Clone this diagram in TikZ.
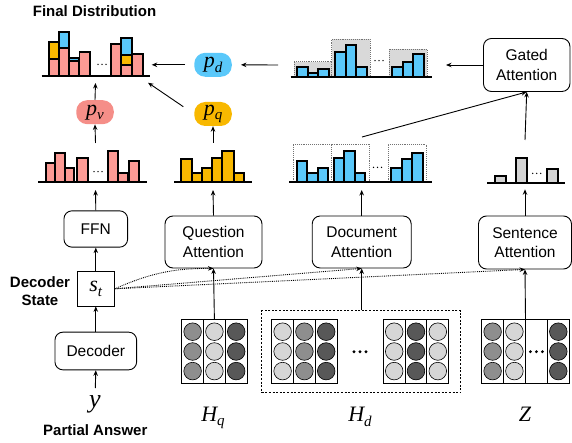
\documentclass[tikz,border=0pt]{standalone}
\usepackage{fontspec}
\newfontfamily\helv{Liberation Sans}
\newfontfamily\tms{Liberation Serif}
\usetikzlibrary{arrows.meta}
\definecolor{pinkc}{HTML}{FC9A94}
\definecolor{pvc}{HTML}{F58E88}
\definecolor{yelc}{HTML}{F8B800}
\definecolor{bluec}{HTML}{5AC8FA}
\definecolor{grayc}{HTML}{D4D4D4}
\definecolor{framec}{HTML}{D9D9D9}
\definecolor{cl}{HTML}{D6D6D6}
\definecolor{cm}{HTML}{8E8E8E}
\definecolor{cd}{HTML}{585858}
\newcommand\mv[2]{{\tms\itshape\fontsize{22}{22}\selectfont #1\raisebox{-4.5pt}{\fontsize{15}{15}\selectfont #2}}}
\newcommand\mybar[5]{\draw[barline,fill=#5] (#1,#3) rectangle (#2,#4);}
\newcommand\memcol[2]{%
  \draw[matline] (#1,319.3) rectangle ++(21.8,64);
  \foreach \yy in {331.7,351.5,371.1} \draw[circ,fill=#2] (#1+10.9,\yy) circle (8.8pt);}
\newcommand\smalldots[2]{\foreach \dx in {-4,0,4} \fill (#1+\dx,#2) circle (0.75pt);}
\newcommand\bigdots[2]{\foreach \dx in {-6,0,6} \fill (#1+\dx,#2) circle (1.6pt);}
\tikzset{
  barline/.style={line width=1.7pt, draw=black},
  baseln/.style={line width=1.7pt},
  matline/.style={line width=0.9pt, draw=black},
  circ/.style={line width=0.6pt, draw=black},
  framedot/.style={densely dotted, line width=0.9pt, draw=black!55},
  arr/.style={-{Stealth[length=5.5pt,width=4.5pt]}, line width=0.9pt},
  dotarr/.style={densely dotted, line width=0.9pt, -{Stealth[length=5.5pt,width=4.5pt]}},
  box/.style={draw, line width=0.9pt, rounded corners=8pt, align=center, inner sep=0pt,
    font=\helv\fontsize{15.5}{19.5}\selectfont},
  pnode/.style={rounded corners=11pt, inner sep=0pt, minimum width=37.5pt, minimum height=24pt},
  bold/.style={font=\helv\bfseries\fontsize{15}{17.5}\selectfont, align=center, inner sep=0pt},
  mathlab/.style={inner sep=0pt}
}
\begin{document}
\begin{tikzpicture}[x=1pt,y=-1pt]
\useasboundingbox (0,0) rectangle (572,443);

% ---------- text labels ----------
\node[bold] (title) at (94.5,11) {Final Distribution};
\node[bold] (dstate) at (40,291) {Decoder\\State};
\node[bold] (pans) at (95.3,430) {Partial Answer};
\node[mathlab, font=\tms\itshape\fontsize{26}{26}\selectfont] (ylab) at (95,404) {y};
\node[mathlab] (hqlab) at (213,418) {\mv{H}{q}};
\node[mathlab] (hdlab) at (360,417) {\mv{H}{d}};
\node[mathlab] (zlab) at (525,416.5) {\mv{Z}{}};

% ---------- boxes ----------
\node[box, minimum width=97pt, minimum height=52pt] (qatt) at (213.5,242) {Question\\Attention};
\node[box, minimum width=99pt, minimum height=52pt] (datt) at (361.7,242) {Document\\Attention};
\node[box, minimum width=93pt, minimum height=53pt] (satt) at (525,242.5) {Sentence\\Attention};
\node[box, minimum width=86.5pt, minimum height=53pt] (gatt) at (526.7,65) {Gated\\Attention};
\node[box, minimum width=63.7pt, minimum height=36.3pt] (ffn) at (95.8,229) {FFN};
\node[box, minimum width=81.7pt, minimum height=37.7pt] (dec) at (95.8,351) {Decoder};
\node[draw, line width=0.8pt, minimum width=37pt, minimum height=34.3pt, inner sep=0pt]
  (st) at (95.8,288.8) {\mv{s}{t}};

\node[pnode, fill=pvc] (pv) at (95,112.2) {\mv{p}{v}};
\node[pnode, fill=yelc] (pq) at (213,114) {\mv{p}{q}};
\node[pnode, fill=bluec] (pd) at (213,64.8) {\mv{p}{d}};

% ---------- final distribution ----------
\mybar{48.7}{58.7}{76}{59.3}{pinkc}\mybar{48.7}{58.7}{59.3}{42}{yelc}
\mybar{58.7}{68.7}{76}{48.3}{pinkc}\mybar{58.7}{68.7}{48.3}{32.3}{bluec}
\mybar{69.3}{79}{76}{60.7}{pinkc}\mybar{69.3}{79}{60.7}{58.3}{bluec}
\mybar{79.5}{89.7}{76}{51.7}{pinkc}
\mybar{111}{121.3}{76}{43.7}{pinkc}
\mybar{121.3}{132}{76}{65}{pinkc}\mybar{121.3}{132}{65}{55.3}{yelc}\mybar{121.3}{132}{55.3}{37.7}{bluec}
\mybar{132.5}{143}{76}{54.3}{pinkc}
\draw[baseln] (41.7,76) -- (150,76);
\smalldots{102}{64.5}

% ---------- pink vocabulary distribution ----------
\mybar{45.7}{55}{182.3}{163.3}{pinkc}
\mybar{55}{65}{182.3}{153.3}{pinkc}
\mybar{65}{74.3}{182.3}{167.7}{pinkc}
\mybar{77}{87.7}{182.3}{158.3}{pinkc}
\mybar{108}{118.3}{182.3}{151}{pinkc}
\mybar{118.3}{128}{182.3}{172.7}{pinkc}
\mybar{129}{139}{182.3}{161}{pinkc}
\draw[baseln] (38,182.3) -- (146.7,182.3);
\smalldots{98}{171.7}

% ---------- yellow question distribution ----------
\mybar{181.3}{192.3}{182.3}{159.3}{yelc}
\mybar{192.3}{202}{182.3}{173.3}{yelc}
\mybar{202}{212.3}{182.3}{167.7}{yelc}
\mybar{212.3}{222.3}{182.3}{158.3}{yelc}
\mybar{222.3}{233.7}{182.3}{150.7}{yelc}
\mybar{233.7}{244}{182.3}{172.7}{yelc}
\draw[baseln] (174,182.3) -- (252,182.3);

% ---------- blue document distribution ----------
\draw[framedot] (293.3,182.3) -- (293.3,144) -- (331.7,144) -- (331.7,182.3);
\draw[framedot] (331.7,144) -- (369.3,144) -- (369.3,182.3);
\draw[framedot] (388.3,182.3) -- (388.3,144.3) -- (426,144.3) -- (426,182.3);
\mybar{296.7}{307.3}{182.3}{161}{bluec}
\mybar{307.3}{317.7}{182.3}{173.3}{bluec}
\mybar{317.7}{328.3}{182.3}{167.7}{bluec}
\mybar{334}{344}{182.3}{158.3}{bluec}
\mybar{344}{355}{182.3}{151}{bluec}
\mybar{355}{365.3}{182.3}{173.3}{bluec}
\mybar{391}{401.7}{182.3}{167.7}{bluec}
\mybar{401.7}{412.3}{182.3}{159.3}{bluec}
\mybar{412.3}{422.7}{182.3}{152.7}{bluec}
\draw[baseln] (289.3,182.3) -- (431.7,182.3);
\smalldots{377.5}{167.3}

% ---------- top blue (gated) distribution ----------
\draw[framedot, fill=framec] (294,76.7) rectangle (331.7,61.7);
\draw[framedot, fill=framec] (331.7,76.7) rectangle (370,39);
\draw[framedot, fill=framec] (389,76.7) rectangle (427.3,49.3);
\mybar{297.3}{308.3}{76.7}{67.3}{bluec}
\mybar{308.3}{318.3}{76.7}{72.7}{bluec}
\mybar{318.3}{329}{76.7}{69.3}{bluec}
\mybar{335}{345.7}{76.7}{52.3}{bluec}
\mybar{345.7}{356.3}{76.7}{45}{bluec}
\mybar{356.3}{366.7}{76.7}{67.3}{bluec}
\mybar{392.3}{402.7}{76.7}{67.3}{bluec}
\mybar{402.7}{413}{76.7}{62.3}{bluec}
\mybar{413}{424}{76.7}{54.3}{bluec}
\draw[baseln] (290.7,76.7) -- (432.3,76.7);
\smalldots{379}{60.7}

% ---------- gray sentence distribution ----------
\mybar{495}{505.7}{183}{176}{grayc}
\mybar{515.7}{526.7}{183}{157.7}{grayc}
\mybar{546.7}{557.7}{183}{169}{grayc}
\draw[baseln] (487.3,183) -- (565,183);
\smalldots{536.7}{173.3}

% ---------- memory matrices ----------
\memcol{181.7}{cm}\memcol{203.5}{cl}\memcol{225.3}{cd}
\node[minimum width=65.4pt, minimum height=64pt, inner sep=0pt] (Hq) at (214.4,351.3) {};
\node[draw, dash pattern=on 2pt off 1.6pt, line width=0.8pt, minimum width=199pt,
  minimum height=82pt, inner sep=0pt] (Hd) at (361.2,351.7) {};
\memcol{271.7}{cl}\memcol{293.5}{cm}\memcol{315.3}{cd}
\bigdots{360}{351.7}
\memcol{383.3}{cl}\memcol{405.1}{cd}\memcol{426.9}{cl}
\memcol{481.7}{cm}\memcol{503.5}{cl}
\draw[matline] (525.3,319.3) rectangle ++(22.1,64);
\bigdots{536.4}{351.7}
\memcol{547.4}{cd}
\node[minimum width=87.5pt, minimum height=64pt, inner sep=0pt] (Z) at (525.5,351.3) {};

% ---------- coordinates at the distributions ----------
\coordinate (fdB) at (95.5,83);
\coordinate (fdQ) at (148,82.7);
\coordinate (fdR) at (151.7,64.8);
\coordinate (pinkT) at (95.5,143);
\coordinate (pinkB) at (95.5,190);
\coordinate (yelT) at (213,143);
\coordinate (yelB) at (213,190);
\coordinate (docT) at (362,137);
\coordinate (docB) at (361.7,190);
\coordinate (tbL) at (278,65);
\coordinate (tbR) at (446,65);
\coordinate (sgT) at (525,140);
\coordinate (sgB) at (525,189.3);
\coordinate (yTop) at (95.3,388);

% ---------- connectors ----------
\draw[arr] (yTop) -- (dec.south);
\draw[arr] (dec.north) -- (st.south);
\draw[arr] (st.north) -- (ffn.south);
\draw[arr] (ffn.north) -- (pinkB);
\draw[arr] (pinkT) -- (pv.south);
\draw[arr] (pv.north) -- (fdB);
\draw[arr, shorten <=13pt] (pq.west) -- (fdQ);
\draw[arr, shorten <=9pt] (pd.west) -- (fdR);
\draw[arr] (yelT) -- (pq.south);
\draw[arr] (qatt.north) -- (yelB);
\draw[arr] (datt.north) -- (docB);
\draw[arr] (satt.north) -- (sgB);
\draw[arr, shorten >=9pt] (tbL) -- (pd.east);
\draw[arr] (gatt.west) -- (tbR);
\draw[arr] (sgT) -- (gatt.south);
\draw[arr] (docT) -- (gatt.south);
\draw[arr] (Hq.north) -- (qatt.south);
\draw[arr] (Hd.north -| datt.south) -- (datt.south);
\draw[arr] (Z.north) -- (satt.south);
\draw[dotarr] (st.east) to[bend left=12] (qatt.south);
\draw[dotarr] (st.east) -- (datt.south);
\draw[dotarr] (st.east) -- (satt.south);
\end{tikzpicture}
\end{document}
